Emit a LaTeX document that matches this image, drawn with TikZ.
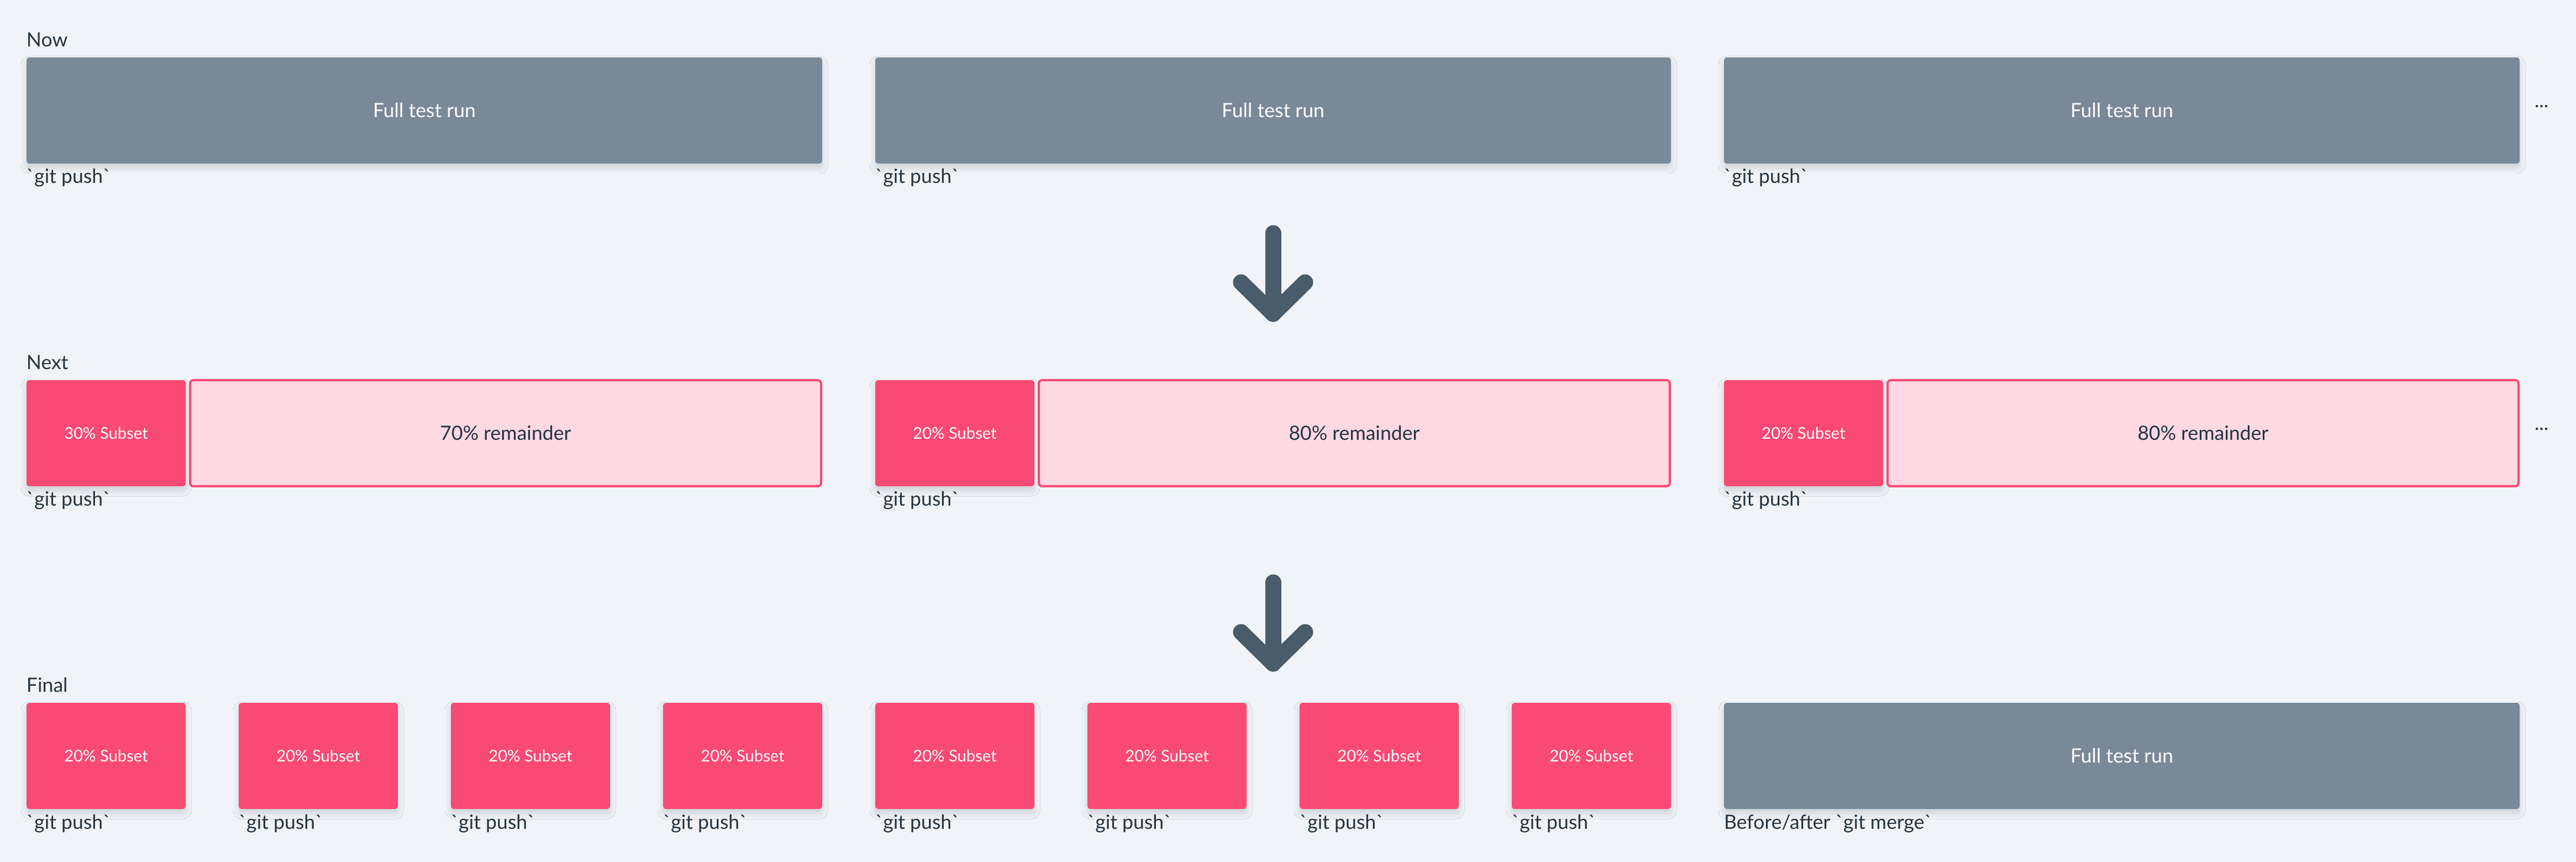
\documentclass[tikz,border=0pt]{standalone}
\usepackage{fontspec}
\setmainfont{Lato}
\usepackage{tikz}
\usetikzlibrary{positioning,shadows.blur}
\definecolor{pagebg}{RGB}{240,244,248}
\definecolor{slate}{RGB}{122,137,152}
\definecolor{rose}{RGB}{248,74,116}
\definecolor{blush}{RGB}{254,216,226}
\definecolor{ink}{RGB}{38,52,66}
\definecolor{arrowgrey}{RGB}{74,91,106}
\newcommand{\gitcmd}[1]{\textasciigrave#1\textasciigrave}

\begin{document}
\begin{tikzpicture}[node distance=24pt, outer sep=0pt, inner sep=0pt,
    every node/.style={text=ink, font=\fontsize{8.9pt}{10.5pt}\selectfont},
    boxshadow/.style={blur shadow={shadow xshift=0pt, shadow yshift=-2pt, shadow blur radius=2.5pt, shadow blur steps=8, shadow opacity=14}},
    fullrun/.style={fill=slate, rounded corners=1.2pt, minimum width=360pt, minimum height=48pt, text=white, boxshadow},
    subset/.style={fill=rose, rounded corners=1.2pt, minimum width=72pt, minimum height=48pt, text=white, font=\fontsize{7.3pt}{9pt}\selectfont, boxshadow},
    remainder/.style={draw=rose, line width=1pt, fill=blush, rounded corners=1.5pt, minimum width=285.5pt, minimum height=48pt},
    lbl/.style={anchor=base west},
    downarrow/.style={draw=arrowgrey, line width=7.25pt, line cap=round, line join=round}]

        \fill[pagebg] (0,0) rectangle (1165.5pt,-390pt);

        % Now
        \node[fullrun]               (n1) at (192pt,-50pt) {Full test run};
        \node[fullrun, right=of n1]  (n2)                  {Full test run};
        \node[fullrun, right=of n2]  (n3)                  {Full test run};
        \node[lbl] (now) at ([yshift=4.8pt]n1.north west) {Now};
        \foreach \i in {1,2,3}
            \node[lbl] (np\i) at ([yshift=-9pt]n\i.south west) {\gitcmd{git push}};
        \node[lbl] (more1) at ([xshift=6.75pt,yshift=1.25pt]n3.east) {...};

        % Next
        \node[subset]                   (s1) at (48pt,-196pt) {30\% Subset};
        \node[remainder, right=2pt of s1]    (r1)  {70\% remainder};
        \node[subset, right=24.5pt of r1]    (s2)  {20\% Subset};
        \node[remainder, right=2pt of s2]    (r2)  {80\% remainder};
        \node[subset, right=24.5pt of r2]    (s3)  {20\% Subset};
        \node[remainder, right=2pt of s3]    (r3)  {80\% remainder};
        \node[lbl] (next) at ([yshift=4.8pt]s1.north west) {Next};
        \foreach \i in {1,2,3}
            \node[lbl] (sp\i) at ([yshift=-9pt]s\i.south west) {\gitcmd{git push}};
        \node[lbl] (more2) at ([xshift=7.25pt,yshift=1.25pt]r3.east) {...};

        % Final
        \node[subset] (f1) at (48pt,-342pt) {20\% Subset};
        \foreach \i [remember=\i as \j (initially 1)] in {2,...,8}
            \node[subset, right=of f\j] (f\i) {20\% Subset};
        \node[fullrun, right=of f8] (fr) {Full test run};
        \node[lbl] (final) at ([yshift=4.8pt]f1.north west) {Final};
        \foreach \i in {1,...,8}
            \node[lbl] (fp\i) at ([yshift=-9pt]f\i.south west) {\gitcmd{git push}};
        \node[lbl] (merge) at ([yshift=-9pt]fr.south west) {Before/after \gitcmd{git merge}};

        % arrows between the rows
        \foreach \a/\top/\tip in {1/-105.5/-142, 2/-263.5/-300.25} {
            \coordinate (t\a) at (576pt,\top pt);
            \coordinate (h\a) at (576pt,\tip pt);
            \draw[downarrow] (t\a) -- (h\a);
            \draw[downarrow] ([shift={(-14.5pt,14.25pt)}]h\a) -- (h\a) -- ([shift={(14.5pt,14.25pt)}]h\a);
        }

\end{tikzpicture}
\end{document}
